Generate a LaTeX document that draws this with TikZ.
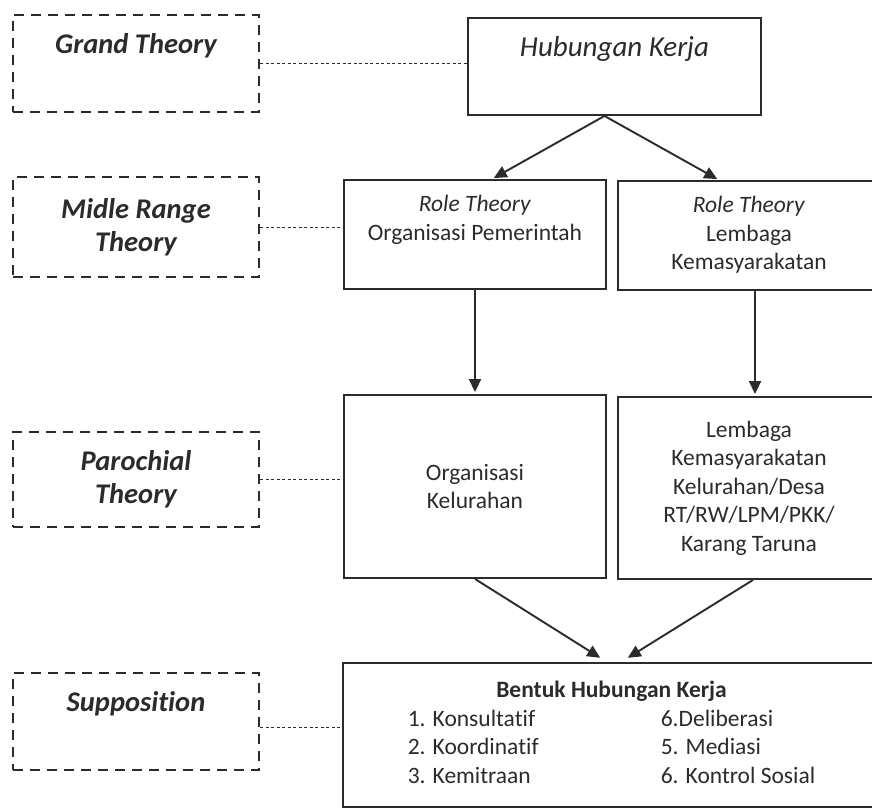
\documentclass[tikz,border=0pt]{standalone}
\usepackage{fontspec}
\setmainfont[Ligatures=NoCommon]{Carlito}
\usepackage{array}
\usetikzlibrary{arrows.meta}
\definecolor{ink}{gray}{0.17}

\begin{document}
\begin{tikzpicture}[x=1pt, y=-1pt, thick,
  body/.style={font=\fontsize{23.5}{28.5}\selectfont, text=ink, align=center},
  theory/.style={shape=rectangle, draw=ink, line width=2pt, dash pattern=on 10pt off 7pt, minimum width=246pt, minimum height=97pt, font=\fontsize{28.5}{33}\selectfont\bfseries\itshape, text=ink, align=center},
  solidbox/.style={shape=rectangle, draw=ink, line width=1.9pt, body},
  link/.style={draw=ink, line width=1pt, dash pattern=on 3pt off 2.5pt},
  arr/.style={draw=ink, line width=1.9pt, -{Triangle[length=13pt, width=12pt]}, shorten >=2pt}]
\useasboundingbox (0,0) rectangle (872,808);
%theory column
\node[theory] (grand) at (136,63.5) {\strut Grand Theory\\\strut};
\node[theory, minimum height=100pt] (midle) at (136,227) {Midle Range\\Theory};
\node[theory, minimum height=95pt] (paro) at (136,479.5) {Parochial\\Theory};
\node[theory] (supp) at (136,721.5) {\strut Supposition\\\strut};
%top
\node[solidbox, minimum width=293pt, minimum height=97pt, font=\fontsize{29}{35}\selectfont\itshape] (hub) at (614.5,66.5) {\strut Hubungan Kerja\\\strut};
%role theory
\node[solidbox, minimum width=262pt, minimum height=109pt] (roleL) at (475,234.5) {\strut\textit{Role Theory}\\Organisasi Pemerintah\\\strut};
\node[solidbox, minimum width=262pt, minimum height=109pt] (roleR) at (749,235.5) {\strut\textit{Role Theory}\\Lembaga\\Kemasyarakatan\strut};
%kelurahan
\node[solidbox, minimum width=262pt, minimum height=183pt] (orgK) at (475,486.5) {Organisasi\\Kelurahan};
\node[solidbox, minimum width=262pt, minimum height=182pt] (lemb) at (749,488) {Lembaga\\Kemasyarakatan\\Kelurahan/Desa\\RT/RW/LPM/PKK/\\Karang Taruna};
%bentuk
\node[solidbox, minimum width=537pt, minimum height=144pt] (bentuk) at (611.5,735) {\begin{tabular}{@{}p{253pt}@{}l@{}}
\multicolumn{2}{c}{\textbf{Bentuk Hubungan Kerja}}\\
1. Konsultatif & 6.Deliberasi\\
2. Koordinatif & 5. Mediasi\\
3. Kemitraan & 6. Kontrol Sosial
\end{tabular}};
%%
\draw[link] (grand.east) -- (grand.east -| hub.west);
\draw[link] (midle.east) -- (midle.east -| roleL.west);
\draw[link] (paro.east) -- (paro.east -| orgK.west);
\draw[link] ([yshift=-6pt]supp.east) -- ([yshift=-6pt]supp.east -| bentuk.west);
\draw[arr] ([xshift=-10pt]hub.south) -- ([xshift=17pt]roleL.north);
\draw[arr] ([xshift=-10pt]hub.south) -- ([xshift=-30pt]roleR.north);
\draw[arr] (roleL) -- (orgK);
\draw[arr] ([xshift=6pt]roleR.south) -- ([xshift=6pt]lemb.north);
\draw[arr, shorten >=8pt] (orgK.south) -- ([xshift=-4.5pt]bentuk.north);
\draw[arr, shorten >=8pt] ([xshift=4pt]lemb.south) -- ([xshift=9.5pt]bentuk.north);
\end{tikzpicture}
\end{document}
